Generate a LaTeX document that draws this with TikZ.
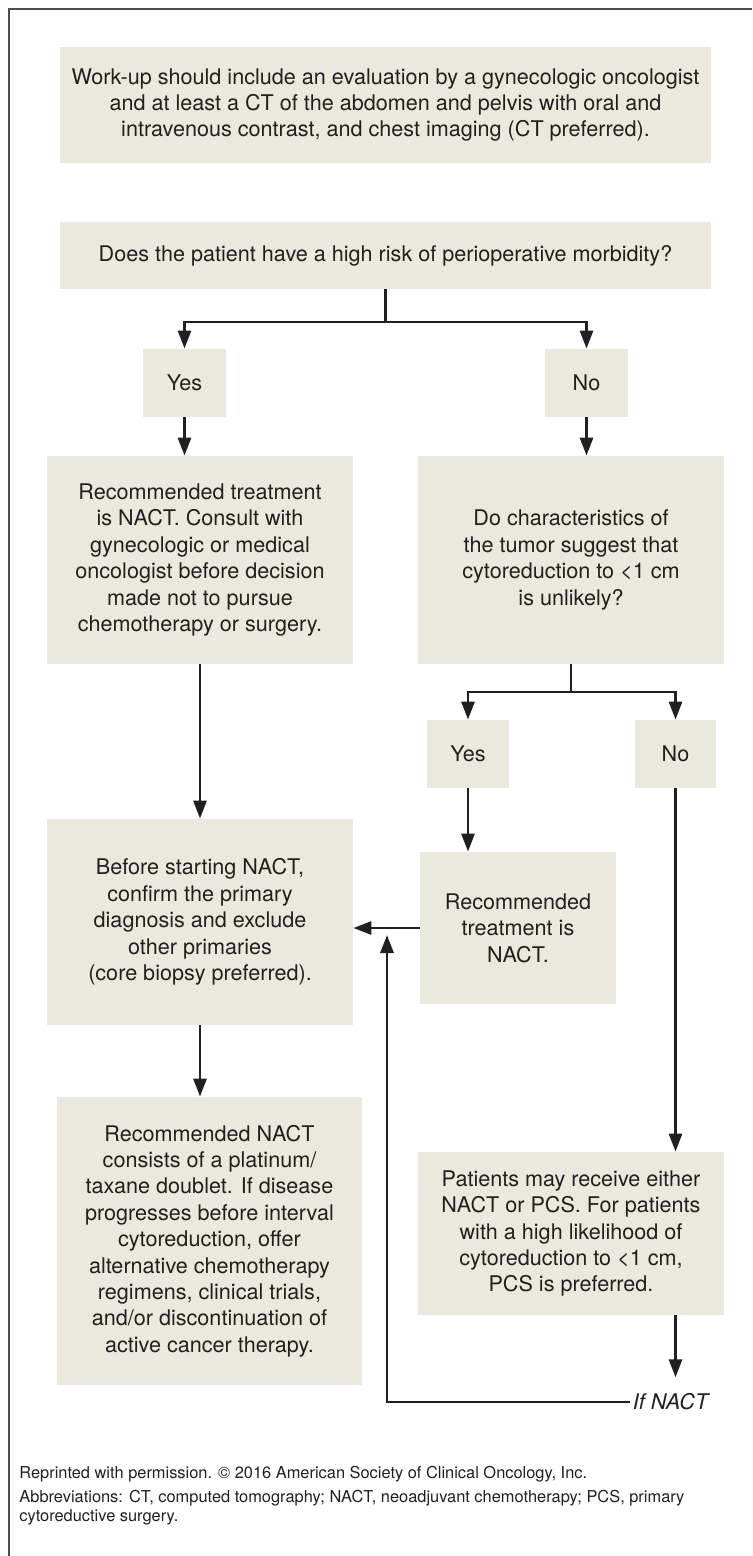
\documentclass[tikz,border=0pt]{standalone}
\usepackage{fontspec}
\setmainfont{TeX Gyre Heros}
\usetikzlibrary{arrows.meta}
\definecolor{hako}{RGB}{235,232,221}
\definecolor{moji}{RGB}{35,31,32}

\begin{document}
\begin{tikzpicture}[x= 0.5pt, y= -0.5pt,
	hakostyle/.style= {fill= hako, text= moji, align= center, inner sep= 0pt, font= \fontsize{10.8}{13.2}\selectfont},
	chuki/.style= {text= moji, inner sep= 0pt, align= left, font= \fontsize{8.2}{9.2}\selectfont},
	sen/.style= {line width= 1.45pt, draw= moji},
	ya/.style= {sen, -{Triangle[length= 9pt, width= 6.5pt]}}]
%	座標はピクセルのまま(1px = 0.5pt)
	\useasboundingbox (0, 0) rectangle (752, 1556);
	\draw[line width= 0.6pt, draw= moji!80](9, 1556)-- (9, 9)-- (752, 9); %外枠(左と上だけ)
	\node[hakostyle, minimum width= 325.5pt, minimum height= 58pt] (workup) at (385.5, 105) {Work-up should include an evaluation by a gynecologic oncologist\\and at least a CT of the abdomen and pelvis with oral and\\intravenous contrast, and chest imaging (CT preferred).}; %一番上の箱
	\node[hakostyle, minimum width= 325.5pt, minimum height= 33.5pt] (risk) at (385.5, 255.5) {Does the patient have a high risk of perioperative morbidity?}; %最初の質問
	\node[hakostyle, minimum width= 41.5pt, minimum height= 34pt] (yesA) at (184.5, 383) {Yes};
	\node[hakostyle, minimum width= 41.5pt, minimum height= 34pt] (noA) at (586.5, 383) {No};
	\node[hakostyle, minimum width= 153pt, minimum height= 104pt] (nactA) at (200, 560) {Recommended treatment\\is NACT. Consult with\\gynecologic or medical\\oncologist before decision\\made not to pursue\\chemotherapy or surgery.}; %左の推奨
	\node[hakostyle, minimum width= 153pt, minimum height= 104pt] (tumor) at (571, 560) {Do characteristics of\\the tumor suggest that\\cytoreduction to <1 cm\\is unlikely?}; %二つ目の質問
	\node[hakostyle, minimum width= 41pt, minimum height= 34pt] (yesB) at (468, 754) {Yes};
	\node[hakostyle, minimum width= 40.5pt, minimum height= 34pt] (noB) at (675.5, 754) {No};
	\node[hakostyle, minimum width= 153pt, minimum height= 103pt] (confirm) at (200, 922) {Before starting NACT,\\confirm the primary\\diagnosis and exclude\\other primaries\\(core biopsy preferred).}; %診断の確認
	\node[hakostyle, minimum width= 98pt, minimum height= 76pt] (nactB) at (518, 928) {Recommended\\treatment is\\NACT.};
	\node[hakostyle, minimum width= 152.5pt, minimum height= 144pt] (regimen) at (209.5, 1241) {Recommended NACT\\consists of a platinum/\\taxane doublet. If disease\\progresses before interval\\cytoreduction, offer\\alternative chemotherapy\\regimens, clinical trials,\\and/or discontinuation of\\active cancer therapy.}; %一番下の左
	\node[hakostyle, minimum width= 153pt, minimum height= 81.5pt] (either) at (571, 1233.5) {Patients may receive either\\NACT or PCS. For patients\\with a high likelihood of\\cytoreduction to <1 cm,\\PCS is preferred.}; %一番下の右
	\node[text= moji, inner sep= 1pt, font= \fontsize{10.8}{13.2}\selectfont\itshape] (ifnact) at (670.5, 1402) {If NACT};
	\node[chuki, anchor= base west] (credit) at (19, 1478) {Reprinted with permission. © 2016 American Society of Clinical Oncology, Inc.}; %注
	\node[chuki, anchor= base west] (abbr) at (19, 1521) {Abbreviations: CT, computed tomography; NACT, neoadjuvant chemotherapy; PCS, primary\\cytoreductive surgery.}; %略語(baseは二行目)
%	矢印
	\coordinate (bunkiA) at (385.5, 322); %分かれ目(上)
	\coordinate (bunkiB) at (571, 692); %分かれ目(下)
	\coordinate (modoriA) at (387, 1402); %戻る線の角
	\coordinate (modoriB) at (387, 935); %戻る線の先
	\draw[sen](risk.south)-- (bunkiA);
	\draw[ya](bunkiA)-| (yesA.north);
	\draw[ya](bunkiA)-| (noA.north);
	\draw[ya](yesA.south)-- (yesA.south |- nactA.north);
	\draw[ya](noA.south)-- (noA.south |- tumor.north);
	\draw[sen](tumor.south)-- (bunkiB);
	\draw[ya](bunkiB)-| (yesB.north);
	\draw[ya](bunkiB)-| (noB.north);
	\draw[ya](yesB.south)-- (yesB.south |- nactB.north);
	\draw[ya](noB.south)-- (noB.south |- either.north);
	\draw[ya](nactA.south)-- (confirm.north);
	\draw[ya](nactB.west)-- (confirm.east |- nactB.west);
	\draw[ya](confirm.south)-- (confirm.south |- regimen.north);
	\draw[ya, shorten >= 7pt](noB.south |- either.south)-- (noB.south |- ifnact.north); %If NACTへ
	\draw[ya](ifnact.west)-- (modoriA)-- (modoriB); %左へ戻る
\end{tikzpicture}
\end{document}
